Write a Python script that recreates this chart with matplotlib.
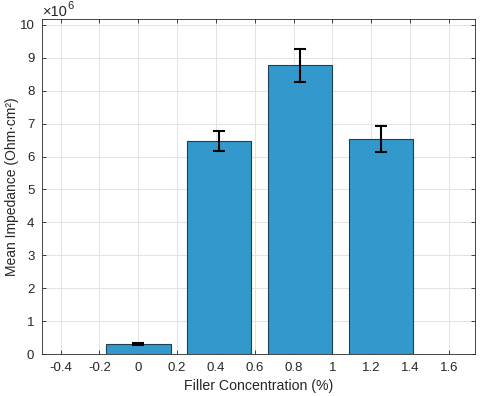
import numpy as np
import matplotlib
matplotlib.use("Agg")
import matplotlib.pyplot as plt
from matplotlib.ticker import FuncFormatter, MultipleLocator

plt.rcParams['font.family'] = ['Liberation Sans', 'DejaVu Sans']

# data
conc = [0.0, 0.417, 0.833, 1.25]            # filler concentration (%)
impedance = [0.30e6, 6.48e6, 8.78e6, 6.53e6]  # mean impedance (Ohm cm^2)
err = [0.02e6, 0.30e6, 0.50e6, 0.40e6]

bar_col = "#3399cc"
txt_col = "#262626"

fig = plt.figure(figsize=(4.8, 3.96), dpi=100)
ax = fig.add_axes([0.0875, 0.106, 0.902, 0.846])

ax.bar(conc, impedance, width=0.333, color=bar_col, edgecolor="#1f3f55",
       linewidth=0.8, zorder=2)
ax.errorbar(conc, impedance, yerr=err, fmt="none", ecolor="black",
            elinewidth=1.5, capsize=4, capthick=1.5, zorder=3)

ax.set_xlim(-0.496, 1.735)
ax.set_ylim(0, 10.18e6)
ax.xaxis.set_major_locator(MultipleLocator(0.2))
ax.yaxis.set_major_locator(MultipleLocator(1e6))
ax.xaxis.set_major_formatter(FuncFormatter(lambda v, p: "%g" % round(v, 2)))
ax.yaxis.set_major_formatter(FuncFormatter(lambda v, p: "%g" % round(v / 1e6, 2)))

ax.grid(True, color="#e3e3e3", linewidth=0.7, zorder=0)
ax.set_axisbelow(True)
for s in ax.spines.values():
    s.set_color("#262626")
    s.set_linewidth(0.6)
ax.tick_params(direction="in", length=3, width=0.6, color="#262626",
               labelsize=9.5, labelcolor=txt_col, top=True, right=True, pad=5.5)

ax.set_xlabel("Filler Concentration (%)", fontsize=10.2, color=txt_col)
ax.set_ylabel("Mean Impedance (Ohm·cm²)", fontsize=10, color=txt_col)
ax.xaxis.set_label_coords(0.5, -0.075)
ax.yaxis.set_label_coords(-0.053, 0.5)
# exponent label, MATLAB style
ax.text(0.002, 0.999, "×10", transform=ax.transAxes, fontsize=10.5,
        color=txt_col, ha="left", va="bottom")
ax.text(0.059, 1.024, "6", transform=ax.transAxes, fontsize=8,
        color=txt_col, ha="left", va="bottom")

fig.savefig("out.png", dpi=100)
